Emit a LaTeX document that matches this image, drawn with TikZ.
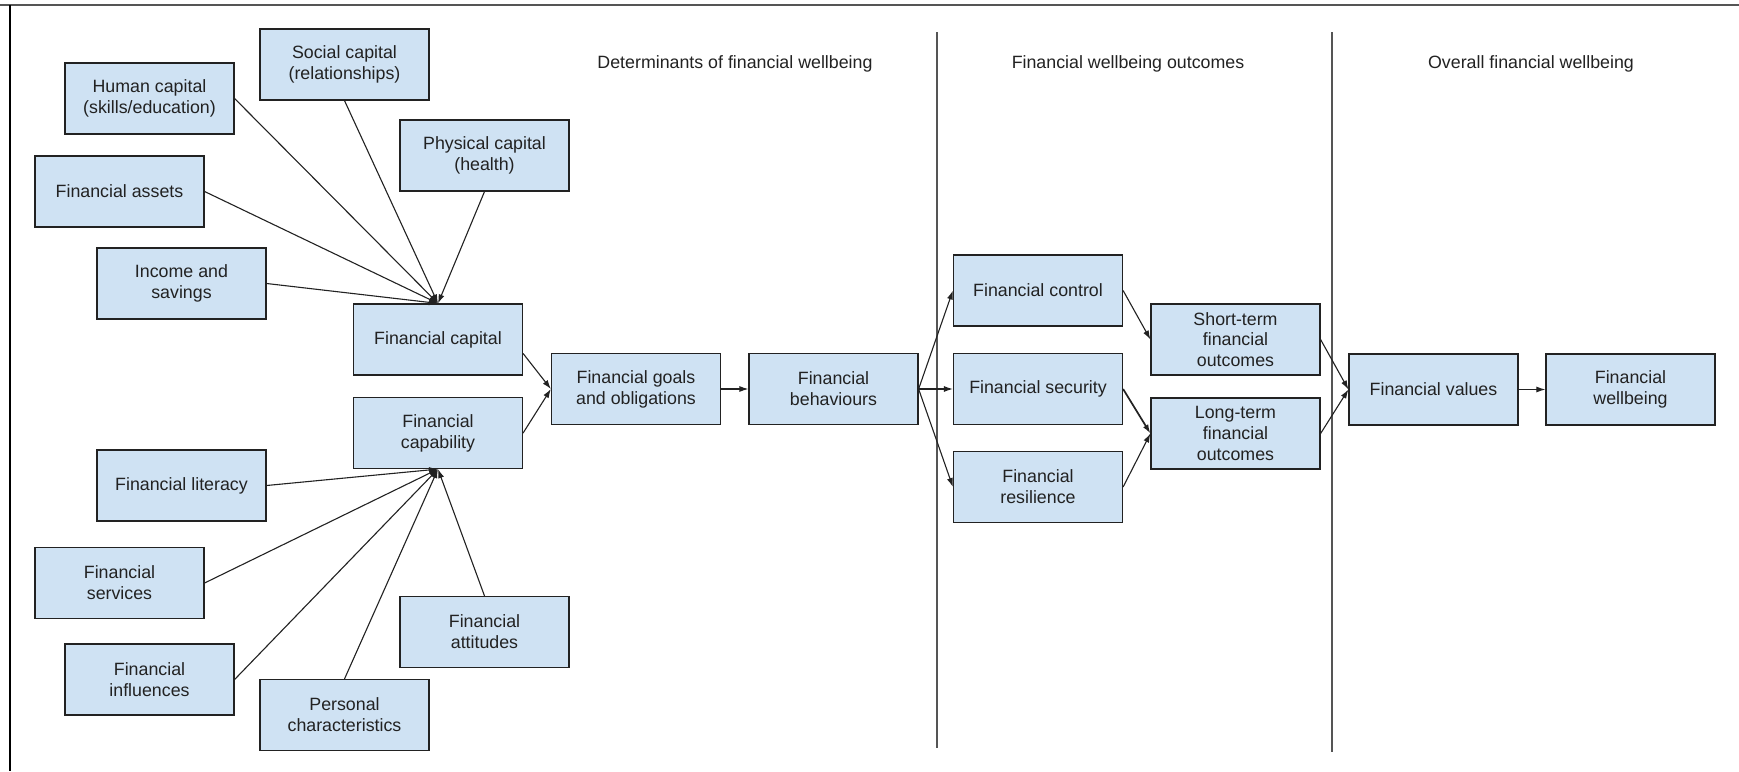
\documentclass[tikz,border=0pt]{standalone}
\usepackage{fontspec}
\setmainfont{Liberation Sans}
\usetikzlibrary{arrows.meta,calc}
\definecolor{boxfill}{HTML}{CFE2F3}
\definecolor{ink}{HTML}{222222}
\definecolor{rule}{HTML}{555555}
\begin{document}
\begin{tikzpicture}[x=1pt,y=-1pt,
  box/.style={draw=ink, line width=1.2pt, fill=boxfill, minimum width=169pt,
    minimum height=71pt, inner sep=2pt, align=center,
    font=\fontsize{17.8}{20.8}\selectfont, text=ink},
  link/.style={draw=ink, line width=1.1pt, -{Latex[length=9pt,width=6pt]}},
  heading/.style={font=\fontsize{17.8}{20.8}\selectfont, text=ink},
  divider/.style={draw=rule, line width=1.6pt}]
\useasboundingbox (0,0) rectangle (1739,771);
\fill[white] (0,0) rectangle (1739,771);

% frame edges
\draw[rule, line width=1.5pt] (0,5) -- (1739,5);
\draw[black, line width=2.6pt] (10,5) -- (10,771);

% section dividers
\draw[divider] (937,32) -- (937,748);
\draw[divider] (1332,32) -- (1332,752);

% section headings
\node[heading] (h1) at (735,64) {Determinants of financial wellbeing};
\node[heading] (h2) at (1128,64) {Financial wellbeing outcomes};
\node[heading] (h3) at (1531,64) {Overall financial wellbeing};

% determinants: capital inputs
\node[box] (hum) at (149.5,98.5) {Human capital\\(skills/education)};
\node[box] (soc) at (344.5,64.5) {Social capital\\(relationships)};
\node[box] (phy) at (484.5,155.5) {Physical capital\\(health)};
\node[box] (ast) at (119.5,191.5) {Financial assets};
\node[box] (inc) at (181.5,283.5) {Income and\\savings};
\node[box] (cap) at (438,339.5) {Financial capital};

% determinants: capability inputs
\node[box] (cab) at (438,433) {Financial\\capability};
\node[box] (lit) at (181.5,485.5) {Financial literacy};
\node[box] (ser) at (119.5,583) {Financial\\services};
\node[box] (inf) at (149.5,679.5) {Financial\\influences};
\node[box] (per) at (344.5,715) {Personal\\characteristics};
\node[box] (att) at (484.5,632) {Financial\\attitudes};

% main chain
\node[box] (goa) at (636,389) {Financial goals\\and obligations};
\node[box] (beh) at (833.5,389) {Financial\\behaviours};

% outcomes
\node[box] (con) at (1038,290.5) {Financial control};
\node[box] (sec) at (1038,389) {Financial security};
\node[box] (res) at (1038,487) {Financial\\resilience};
\node[box] (sho) at (1235.5,339.5) {Short-term\\financial\\outcomes};
\node[box] (lon) at (1235.5,433.5) {Long-term\\financial\\outcomes};

% overall wellbeing
\node[box] (val) at (1433.5,389.5) {Financial values};
\node[box] (wel) at (1630.5,389.5) {Financial\\wellbeing};

% connectors into financial capital
\draw[link] (hum.east) -- (cap.north);
\draw[link] (soc.south) -- (cap.north);
\draw[link] (phy.south) -- (cap.north);
\draw[link] (ast.east) -- (cap.north);
\draw[link] (inc.east) -- (cap.north);

% connectors into financial capability
\draw[link] (lit.east) -- (cab.south);
\draw[link] (ser.east) -- (cab.south);
\draw[link] (inf.east) -- (cab.south);
\draw[link] (per.north) -- (cab.south);
\draw[link] (att.north) -- (cab.south);

% main chain connectors
\draw[link] ($(cap.east)+(0,14)$) -- (goa.west);
\draw[link] (cab.east) -- (goa.west);
\draw[link] (goa.east) -- (beh.west);
\draw[link] (beh.east) -- (con.west);
\draw[link] (beh.east) -- (sec.west);
\draw[link] (beh.east) -- (res.west);
\draw[link] (con.east) -- (sho.west);
\draw[link, line width=1.7pt] (sec.east) -- (lon.west);
\draw[link] (res.east) -- (lon.west);
\draw[link] (sho.east) -- (val.west);
\draw[link] (lon.east) -- (val.west);
\draw[link] (val.east) -- (wel.west);
\end{tikzpicture}
\end{document}
